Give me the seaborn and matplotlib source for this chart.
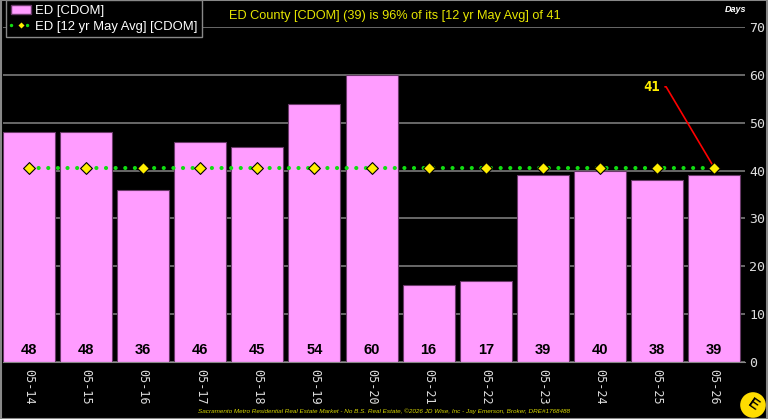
import matplotlib
matplotlib.use("Agg")
import matplotlib.pyplot as plt
import seaborn as sns
import pandas as pd
from matplotlib.patches import Ellipse
from matplotlib.lines import Line2D

##### DATA #####
months = ['05-14', '05-15', '05-16', '05-17', '05-18', '05-19', '05-20',
          '05-21', '05-22', '05-23', '05-24', '05-25', '05-26']
cdom = [48, 48, 36, 46, 45, 54, 60, 16, 17, 39, 40, 38, 39]
avg_12yr = [40.6] * 13

df = pd.DataFrame({'month': months, 'cdom': cdom, 'avg': avg_12yr})
df['x'] = range(len(df))

##### PLOT #####
sns.set_style('dark')
plt.rcParams['font.family'] = ['Liberation Sans', 'DejaVu Sans']

fig = plt.figure(figsize=(7.68, 4.19), dpi=100, facecolor='black')
ax = fig.add_axes([3/768, 1 - 362/419, 742/768, 335/419], facecolor='black')

sns.barplot(x='x', y='cdom', data=df, ax=ax, color='#ff9cff', width=0.91,
            saturation=1, edgecolor='#6a3a6a', linewidth=0.8, native_scale=True,
            zorder=2)

# 12 yr avg: green dotted line + yellow diamonds
dots = (0, (0.01, 2.3))
ax.plot(df['x'], df['avg'], linestyle=dots, color='#11dd11', linewidth=3,
        zorder=4, dash_capstyle='round')
ax.scatter(df['x'], df['avg'], marker='D', s=36, color='#ffee00', edgecolor='black',
           linewidth=0.8, zorder=5)

for x, v in zip(df['x'], df['cdom']):
    ax.text(x, 2.6, str(v), ha='center', va='center', fontsize=10.5,
            fontweight='bold', color='black', zorder=6)

# callout for last average point
ax.annotate('41', xy=(12, df['avg'].iloc[-1]), xytext=(10.91, 57.5),
            color='#ffee00', fontsize=10, fontweight='bold', family='DejaVu Sans Mono',
            ha='center', va='center',
            arrowprops=dict(arrowstyle='-', color='red', lw=1.2,
                            connectionstyle='angle,angleA=0,angleB=120.7,rad=0',
                            shrinkA=1, shrinkB=0))

ax.set_xlim(-0.455, 12.54)
ax.set_ylim(0, 70)
ax.set_yticks(range(0, 71, 10))
ax.yaxis.tick_right()
ax.grid(axis='y', color='#7a7a7a', linewidth=1.2, zorder=0)
ax.grid(axis='x', visible=False)
ax.set_axisbelow(True)
ax.set_xticks(df['x'])
ax.set_xticklabels(df['month'], rotation=-90, family='DejaVu Sans Mono',
                   fontsize=8.5, color='#dddddd')
ax.tick_params(axis='y', labelcolor='#dddddd', labelsize=9.5, length=0, pad=3)
ax.tick_params(axis='x', length=0, pad=5)
for lbl in ax.get_yticklabels():
    lbl.set_family('DejaVu Sans Mono')
ax.set_xlabel('')
ax.set_ylabel('')
for s in ax.spines.values():
    s.set_visible(False)
ax.spines['bottom'].set_visible(True)
ax.spines['bottom'].set_color('#888888')

handles = [
    plt.Rectangle((0, 0), 1, 1, facecolor='#ff9cff', edgecolor='#6a3a6a'),
    Line2D([], [], linestyle=dots, color='#11dd11', linewidth=2.5, marker='D',
           markersize=4.5, markerfacecolor='#ffee00', markeredgecolor='black',
           dash_capstyle='round'),
]
leg = fig.legend(handles, ['ED [CDOM]', 'ED [12 yr May Avg] [CDOM]'],
                 loc='upper left', bbox_to_anchor=(6/768, 1.0), frameon=True,
                 facecolor='black', edgecolor='#888888', fontsize=9.4,
                 labelcolor='white', borderpad=0.35, handlelength=1.6,
                 handletextpad=0.25, labelspacing=0.3, fancybox=False,
                 borderaxespad=0)
leg.get_frame().set_alpha(1)
leg.set_zorder(10)

fig.text(0.514, 0.963, 'ED County [CDOM] (39) is 96% of its [12 yr May Avg] of 41',
         color='#e6e600', fontsize=9.2, ha='center', va='center')
fig.text(0.972, 0.977, 'Days', color='white', fontsize=6.5, fontstyle='italic',
         fontweight='bold', ha='right', va='center')
fig.text(0.50, 0.019, 'Sacramento Metro Residential Real Estate Market - No B.S. Real Estate, '
         '\u00a92026 JD Wise, Inc - Jay Emerson, Broker, DRE#1768488',
         color='#d8d800', fontsize=4.6, fontstyle='italic', ha='center', va='center')

# logo
fig.add_artist(Ellipse((753/768, 1 - 405/419), 27/768, 27/419, transform=fig.transFigure,
                       facecolor='#ffdd00', edgecolor='black', linewidth=1))
fig.text(753/768, 1 - 405/419, 'E', color='black', fontsize=11, fontweight='bold',
         ha='center', va='center', rotation=-35)

# outer frame
fig.add_artist(plt.Rectangle((0.001, 0.001), 0.998, 0.998, transform=fig.transFigure,
                             fill=False, edgecolor='#888888', linewidth=1.5))

fig.savefig('out.png', dpi=100, facecolor='black')
